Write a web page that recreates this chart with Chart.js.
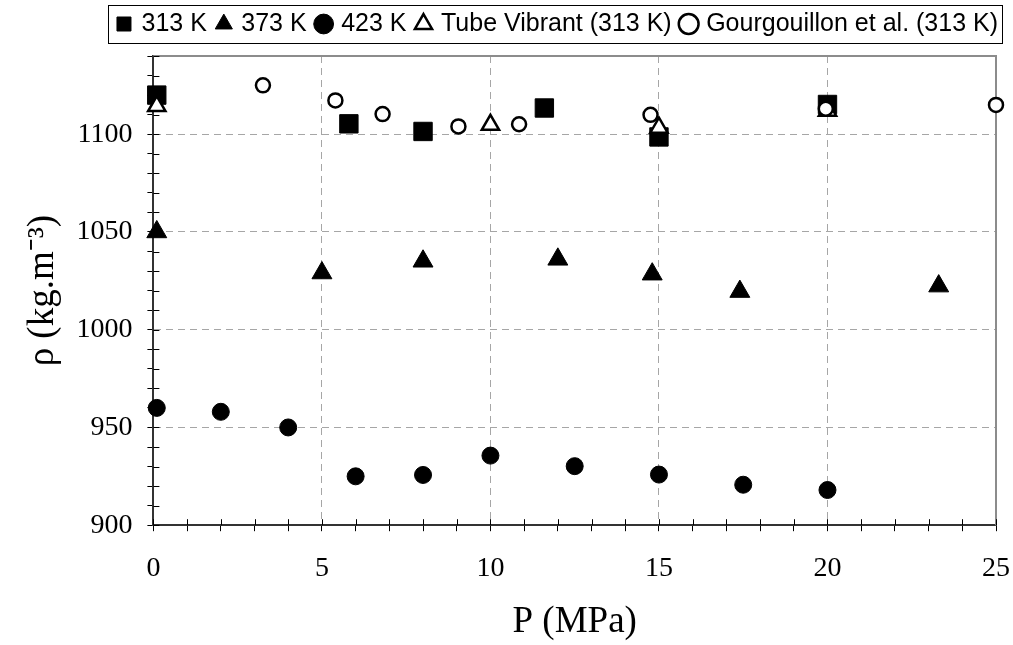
<!DOCTYPE html>
<html>
<head>
<meta charset="utf-8">
<script src="https://cdn.jsdelivr.net/npm/chart.js@4"></script>
<style>
  body { margin: 0; background: #fff; }
  #wrap { width: 1013px; height: 645px; }
</style>
</head>
<body>
<div id="wrap"><canvas id="densityChart"></canvas></div>
<script>
// pressure (MPa) / density (kg.m-3)
const seriesNames = ["313 K", "373 K", "423 K", "Tube Vibrant (313 K)", "Gourgouillon et al. (313 K)"];

const p313 = [0.1, 5.8, 8, 11.6, 15, 20];
const rho313 = [1120, 1105.3, 1101.4, 1113.4, 1098.6, 1115.2];

const p373 = [0.1, 5, 8, 12, 14.8, 17.4, 23.3];
const rho373 = [1050, 1029, 1035, 1036, 1028.4, 1019.5, 1022.3];

const p423 = [0.1, 2, 4, 6, 8, 10, 12.5, 15, 17.5, 20];
const rho423 = [960, 958, 950, 925, 925.7, 935.6, 930.2, 925.9, 920.7, 918];

const pTube = [0.1, 10, 15, 20];
const rhoTube = [1114.4, 1104.8, 1103.3, 1112];

const pGourg = [3.25, 5.4, 6.8, 9.05, 10.85, 14.75, 19.95, 25];
const rhoGourg = [1125, 1117.3, 1110.3, 1104, 1105.1, 1109.9, 1113, 1115];

// axis ranges and labelled ticks
const xMin = 0, xMax = 25, xMinor = 1, xMajor = 5;
const yMin = 900, yMax = 1140, yMinor = 10, yMajor = 50;

function pts(xs, ys) {
	return xs.map((v, i) => ({ x: v, y: ys[i] }));
}

const serif = "'Liberation Serif', 'Times New Roman', serif";
const sans = "'Liberation Sans', Arial, sans-serif";

const data = {
	datasets: [
		{ label: seriesNames[0], data: pts(p313, rho313), order: 4,
		  pointStyle: "rect", pointRadius: 13, backgroundColor: "#000", borderColor: "#000", borderWidth: 1 },
		{ label: seriesNames[1], data: pts(p373, rho373), order: 3,
		  pointStyle: "triangle", pointRadius: 11.5, backgroundColor: "#000", borderColor: "#000", borderWidth: 1 },
		{ label: seriesNames[2], data: pts(p423, rho423), order: 2,
		  pointStyle: "circle", pointRadius: 8.5, backgroundColor: "#000", borderColor: "#000", borderWidth: 1 },
		{ label: seriesNames[3], data: pts(pTube, rhoTube), order: 1,
		  pointStyle: "triangle", pointRadius: 10, backgroundColor: "#fff", borderColor: "#000", borderWidth: 2.5 },
		{ label: seriesNames[4], data: pts(pGourg, rhoGourg), order: 0,
		  pointStyle: "circle", pointRadius: 7, backgroundColor: "#fff", borderColor: "#000", borderWidth: 2.5 },
	],
};

// gray top/right frame + the inner half of the crossing tick marks
const plotFrame = {
	id: "plotFrame",
	beforeDatasetsDraw(chart) {
		const { ctx, chartArea: a, scales: { x, y } } = chart;
		ctx.save();
		ctx.strokeStyle = "#8c8c8c";
		ctx.lineWidth = 2;
		ctx.beginPath();
		ctx.moveTo(a.left, a.top);
		ctx.lineTo(a.right, a.top);
		ctx.lineTo(a.right, a.bottom);
		ctx.stroke();
		ctx.strokeStyle = "#000";
		ctx.lineWidth = 1;
		ctx.beginPath();
		x.ticks.forEach(t => {
			const px = Math.round(x.getPixelForValue(t.value)) + 0.5;
			ctx.moveTo(px, a.bottom);
			ctx.lineTo(px, a.bottom - 6);
		});
		y.ticks.forEach(t => {
			const py = Math.round(y.getPixelForValue(t.value)) + 0.5;
			ctx.moveTo(a.left, py);
			ctx.lineTo(a.left + 6, py);
		});
		ctx.stroke();
		ctx.restore();
	},
};

// move the legend row to the right end, and box it
const legendBox = {
	id: "legendBox",
	afterLayout(chart) {
		const lg = chart.legend;
		const p = lg.options.labels.padding;
		const w = lg.lineWidths[0];
		const start = (lg.left + p + lg.right - w) / 2;
		const dx = chart.chartArea.right + 2 - (start + w - p);
		lg.left += dx;
		lg.right += dx;
		lg.top -= 9.5;
		lg.bottom -= 9.5;
	},
	afterDraw(chart) {
		const lg = chart.legend;
		const { ctx } = chart;
		const p = lg.options.labels.padding;
		const w = lg.lineWidths[0];
		const start = (lg.left + p + lg.right - w) / 2;
		const cy = lg.top + p + 12.5;
		ctx.save();
		ctx.strokeStyle = "#000";
		ctx.lineWidth = 1;
		ctx.strokeRect(Math.round(start - 11) + 0.5, Math.round(cy - 19) + 0.5,
			Math.round(w - p + 15), 38);
		ctx.restore();
	},
};

const config = {
	type: "scatter",
	data: data,
	options: {
		responsive: true,
		maintainAspectRatio: false,
		animation: false,
		clip: false,
		layout: { padding: { top: 9, right: 0, bottom: 0.8, left: 0 } },
		plugins: {
			tooltip: { enabled: false },
			legend: {
				position: "top",
				reverse: true,
				labels: {
					usePointStyle: true,
					boxWidth: 10,
					boxHeight: 14,
					padding: 12,
					color: "#000",
					font: { family: sans, size: 25 },
				},
			},
		},
		scales: {
			x: {
				type: "linear",
				min: xMin,
				max: xMax,
				title: { display: true, text: "P (MPa)", color: "#000",
					font: { family: serif, size: 37 }, padding: { top: -6, bottom: 0 } },
				ticks: {
					stepSize: xMinor,
					autoSkip: false,
					maxRotation: 0,
					padding: 3,
					color: "#000",
					font: { family: serif, size: 28, lineHeight: 2.45 },
					callback: v => (v % xMajor === 0 ? v : ""),
				},
				grid: {
					color: c => {
						const v = c.tick && c.tick.value;
						return v % xMajor === 0 && v !== xMin && v !== xMax ? "#a6a6a6" : "transparent";
					},
					lineWidth: 1,
					tickColor: "#000",
					tickLength: 6,
					tickWidth: 1,
				},
				border: { display: true, color: "#333", width: 2, dash: [7, 5] },
			},
			y: {
				type: "linear",
				min: yMin,
				max: yMax,
				title: { display: true, text: "ρ (kg.m⁻³)", color: "#000",
					font: { family: serif, size: 37 }, padding: { top: 21, bottom: -4 } },
				ticks: {
					stepSize: yMinor,
					autoSkip: false,
					padding: 15,
					color: "#000",
					font: { family: serif, size: 28 },
					callback: v => (v % yMajor === 0 ? v : ""),
				},
				grid: {
					color: c => {
						const v = c.tick && c.tick.value;
						return v % yMajor === 0 && v !== yMin && v !== yMax ? "#a6a6a6" : "transparent";
					},
					lineWidth: 1,
					tickColor: "#000",
					tickLength: 6,
					tickWidth: 1,
				},
				border: { display: true, color: "#333", width: 2, dash: [7, 5] },
			},
		},
	},
	plugins: [plotFrame, legendBox],
};

const densityChart = new Chart(document.getElementById("densityChart"), config);
</script>
</body>
</html>
